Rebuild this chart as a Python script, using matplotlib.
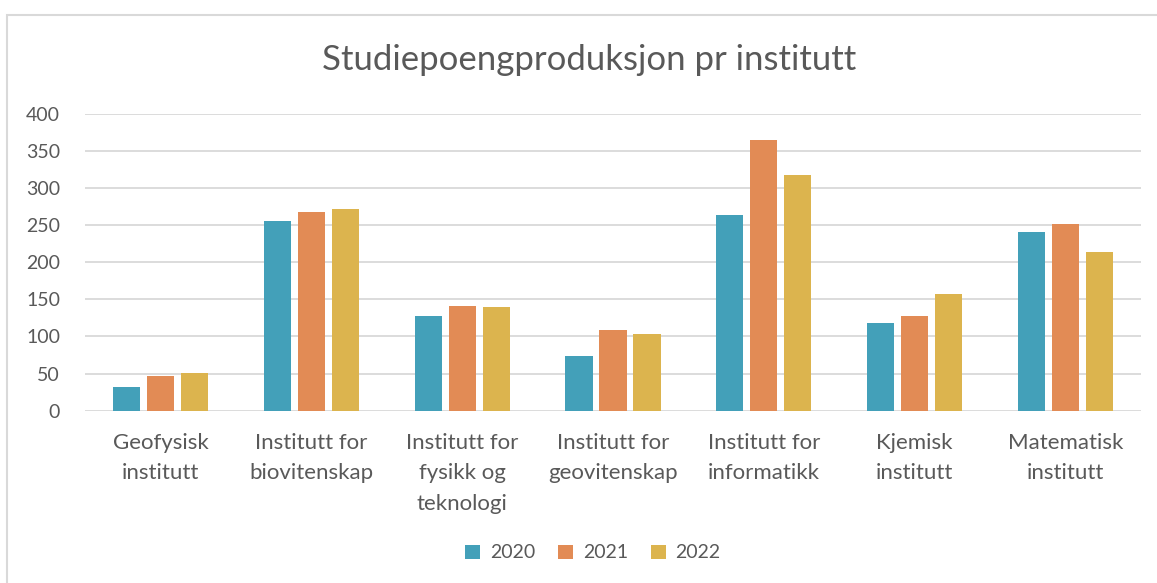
import matplotlib
matplotlib.use("Agg")
import matplotlib.pyplot as plt
import numpy as np
from matplotlib.patches import Rectangle

categories = ["Geofysisk\ninstitutt", "Institutt for\nbiovitenskap", "Institutt for\nfysikk og\nteknologi",
              "Institutt for\ngeovitenskap", "Institutt for\ninformatikk", "Kjemisk\ninstitutt", "Matematisk\ninstitutt"]
series_names = ["2020", "2021", "2022"]
v2020 = [32, 255, 127, 74, 263, 118, 241]
v2021 = [47, 268, 141, 109, 364, 127, 252]
v2022 = [51, 271, 139, 103, 318, 157, 214]
yticks = [0, 50, 100, 150, 200, 250, 300, 350, 400]

colors = ["#43A0B9", "#E28B55", "#DCB44E"]
text_color = "#595959"
grid_color = "#D9D9D9"

plt.rcParams['font.family'] = ['Lato', 'DejaVu Sans']

fig = plt.figure(figsize=(11.57, 5.83), dpi=100)
ax = fig.add_axes([85/1157, 1-410.7/583, (1141-85)/1157, (410.7-113.6)/583])

# outer border
fig.patches.append(Rectangle((7/1157, -0.05), 1.2, 1-15/583+0.05, transform=fig.transFigure,
                             fill=False, edgecolor=grid_color, lw=1.5))

x = np.arange(len(categories))
offs = [-0.225, 0, 0.225]
for vals, off, c, name in zip([v2020, v2021, v2022], offs, colors, series_names):
    ax.bar(x + off, vals, width=0.18, color=c, label=name, zorder=3)

ax.set_xlim(-0.5, len(categories) - 0.5)
ax.set_ylim(0, 400)
ax.set_yticks(yticks)
ax.set_yticklabels([str(t) for t in yticks], fontsize=14, color=text_color)
ax.set_xticks(x)
ax.set_xticklabels(categories, fontsize=16, color=text_color, linespacing=1.65)
ax.tick_params(axis='y', length=0, pad=18)
ax.tick_params(axis='x', length=0, pad=16)
ax.yaxis.grid(True, color=grid_color, lw=1.3, zorder=0)
for s in ["top", "right", "left", "bottom"]:
    ax.spines[s].set_visible(False)
ax.set_axisbelow(True)

fig.text(589/1157, 1-60/583, "Studiepoengproduksjon pr institutt", ha='center', va='center',
         fontsize=25, color=text_color)

fig.legend(loc='center', bbox_to_anchor=(593/1157, 1-553/583), ncol=3, frameon=False,
           fontsize=14, labelcolor=text_color, handlelength=0.75, handleheight=0.75,
           columnspacing=1.2, handletextpad=0.5)

fig.savefig("out.png", dpi=100, facecolor="white")
